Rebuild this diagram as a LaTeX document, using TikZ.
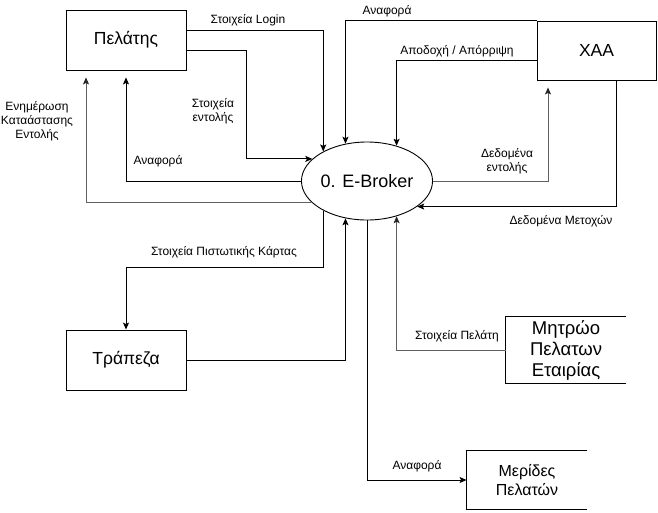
\documentclass[tikz,border=0pt]{standalone}
\usepackage{fontspec}
\setmainfont{Liberation Sans}
\usetikzlibrary{arrows.meta,shapes.geometric}

\begin{document}
\begin{tikzpicture}[x=1pt,y=-1pt,line width=0.9pt,
    ent/.style={draw,minimum width=120pt,minimum height=60pt,font=\fontsize{17.5}{21}\selectfont},
    store/.style={minimum width=120pt,minimum height=60pt,align=center},
    flow/.style={-{Stealth[length=7pt,width=6pt,inset=1.5pt]}},
    grayflow/.style={draw=gray!75!black,-{Stealth[length=7pt,width=6pt,inset=1.5pt,color=black!85]}},
    lbl/.style={font=\fontsize{12}{14}\selectfont,align=center}]
  \useasboundingbox (0,0) rectangle (658,512);
  % External entities
  \node[ent] (pel) at (126,40) {Πελάτης};
  \node[ent,minimum width=119pt,minimum height=59pt] (xaa) at (596.5,50.5) {ΧΑΑ};
  \node[ent] (trp) at (126,360) {Τράπεζα};
  % Process
  \node[draw,ellipse,minimum width=120pt,minimum height=78pt,inner sep=0pt,
        font=\fontsize{18}{21}\selectfont] (eb) at (367,181) {0. E-Broker};
  % Data stores
  \node[store,font=\fontsize{18.5}{21}\selectfont] (mtr) at (566,350) {Μητρώο\\Πελατων\\Εταιρίας};
  \draw (mtr.north east) -- (mtr.north west) -- (mtr.south west) -- (mtr.south east);
  \node[store,minimum height=58pt,font=\fontsize{16}{19}\selectfont] (mer) at (527,480) {Μερίδες\\Πελατών};
  \draw (mer.north east) -- (mer.north west) -- (mer.south west) -- (mer.south east);
  % Flows with Pelatis
  \draw[flow] ([yshift=10pt]pel.east) -| (eb.146);
  \node[lbl] at (248,20) {Στοιχεία Login};
  \draw[flow] ([yshift=-10pt]pel.east) -- (246,50) |- (eb.158);
  \node[lbl] at (213,111) {Στοιχεία\\εντολής};
  \draw[flow,shorten >=7pt] (eb.west) -| (pel.south);
  \node[lbl] at (158,161) {Αναφορά};
  \draw[grayflow,shorten >=7pt] (eb.201) -| ([xshift=-40pt]pel.south);
  \node[lbl] at (37,121) {Ενημέρωση\\Καταάστασης\\Εντολής};
  % Flows with Trapeza
  \draw[flow] (eb.214) -- ++(0,57) -| (trp.north);
  \node[lbl] at (224,252) {Στοιχεία Πιστωτικής Κάρτας};
  \draw[flow] (trp.east) -| (eb.240);
  % Flows with data stores
  \draw[flow] (eb.south) |- (mer.west);
  \node[lbl] at (417,466) {Αναφορά};
  \draw[grayflow] (mtr.west) -| (eb.310);
  \node[lbl] at (457,336) {Στοιχεία Πελάτη};
  % Flows with XAA
  \draw[flow] (xaa.north west) -| (eb.120);
  \node[lbl] at (387,11) {Αναφορά};
  \draw[flow] ([yshift=-10pt]xaa.west) -| (eb.50);
  \node[lbl] at (457,51) {Αποδοχή / Απόρριψη};
  \draw[grayflow,shorten >=7pt] (eb.east) -| ([xshift=-48.5pt]xaa.south);
  \node[lbl] at (507,161) {Δεδομένα\\εντολής};
  \draw[flow] ([xshift=20pt]xaa.south) |- (eb.333);
  \node[lbl] at (561,221) {Δεδομένα Μετοχών};
\end{tikzpicture}
\end{document}
